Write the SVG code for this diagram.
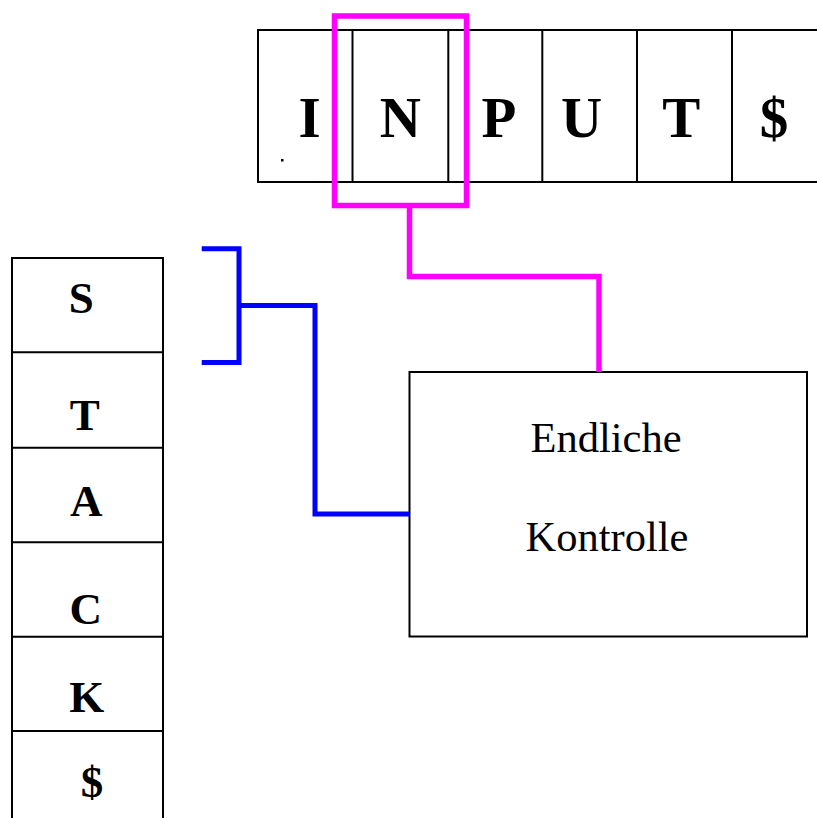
<svg xmlns="http://www.w3.org/2000/svg" width="817" height="818" viewBox="0 0 817 818">
<style>
.cell{fill:none;stroke:#000;stroke-width:2}
.big{font-family:"Liberation Serif","Times New Roman",serif;font-weight:bold;font-size:57px;text-anchor:middle;fill:#000}
.stk{font-family:"Liberation Serif","Times New Roman",serif;font-weight:bold;font-size:45px;text-anchor:middle;fill:#000}
.lbl{font-family:"Liberation Serif","Times New Roman",serif;font-size:42.5px;text-anchor:middle;fill:#000}
.mag{fill:none;stroke:#ff00ff;stroke-width:5.5}
.blu{fill:none;stroke:#0000ff;stroke-width:5}
</style>
<rect width="817" height="818" fill="#fff"/>
<g id="input-tape">
  <path class="cell" d="M830,30 H258 V182 H830 M352.5,30 V182 M448.3,30 V182 M542.3,30 V182 M637,30 V182 M732,30 V182"/>
  <text class="big" x="309.7" y="136.5">I</text>
  <rect x="281" y="159" width="2.5" height="2.5" fill="#000"/>
  <text class="big" x="400.3" y="136.5">N</text>
  <text class="big" x="499" y="136.5">P</text>
  <text class="big" x="581.7" y="136.5">U</text>
  <text class="big" x="681.3" y="136.5">T</text>
  <text class="big" x="774" y="136.5">$</text>
</g>
<g id="read-head">
  <rect class="mag" x="334.5" y="16" width="132" height="189.5"/>
</g>
<g id="stack">
  <path class="cell" d="M12,830 V258 H163 V830 M12,352.3 H163 M12,447.7 H163 M12,542.3 H163 M12,636.7 H163 M12,731 H163"/>
  <text class="stk" x="81.2" y="313.3">S</text>
  <text class="stk" x="84.7" y="430">T</text>
  <text class="stk" x="86.3" y="516">A</text>
  <text class="stk" x="85.8" y="624">C</text>
  <text class="stk" x="86.7" y="712.3">K</text>
  <text class="stk" x="92" y="797">$</text>
</g>
<g id="control">
  <rect class="cell" x="409.5" y="372" width="397.5" height="264.5"/>
  <text class="lbl" x="606" y="451.5">Endliche</text>
  <text class="lbl" x="607" y="550.5">Kontrolle</text>
</g>
<g id="connectors">
  <path class="mag" d="M409.5,205 V276.5 H599 V372"/>
  <path class="blu" d="M201.7,248.8 H239 V362.5 H201.7 M239,305.5 H315 V514 H409"/>
</g>
</svg>
